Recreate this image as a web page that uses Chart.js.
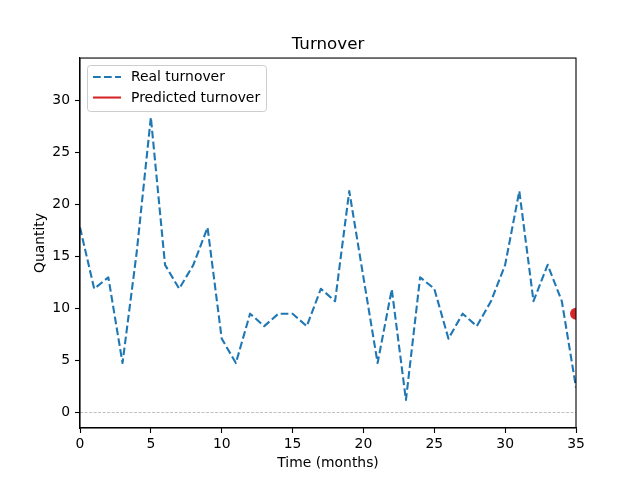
<!DOCTYPE html>
<html>
<head>
<meta charset="utf-8">
<script src="https://cdn.jsdelivr.net/npm/chart.js@4.4.1/dist/chart.umd.min.js"></script>
<style>
  html, body { margin: 0; padding: 0; background: #fff; }
  #wrap { width: 640px; height: 480px; }
</style>
</head>
<body>
<div id="wrap"><canvas id="turnoverChart" width="640" height="480"></canvas></div>
<script>
// data
const months = [0, 1, 2, 3, 4, 5, 6, 7, 8, 9, 10, 11, 12, 13, 14, 15, 16, 17,
  18, 19, 20, 21, 22, 23, 24, 25, 26, 27, 28, 29, 30, 31, 32, 33, 34, 35];
const realTurnover = [17.8, 11.9, 13.0, 4.75, 15.4, 28.4, 14.2, 11.9, 14.2, 17.8,
  7.1, 4.75, 9.5, 8.3, 9.5, 9.5, 8.3, 11.9, 10.7, 21.3, 13.0, 4.75, 11.85, 1.2,
  13.0, 11.9, 7.1, 9.5, 8.3, 10.7, 14.2, 21.3, 10.7, 14.2, 10.7, 2.4];
const predMonths = [35];
const predTurnover = [9.5];
const xTicks = [0, 5, 10, 15, 20, 25, 30, 35];
const yTicks = [0, 5, 10, 15, 20, 25, 30];

const FONT = "'DejaVu Sans', sans-serif";

// frame round the plot + legend box inside the axes
const framePlugin = {
  id: "frame",
  afterDraw(chart) {
    const { ctx, chartArea: a } = chart;
    ctx.save();
    ctx.strokeStyle = "#000";
    ctx.lineWidth = 1.1;
    ctx.strokeRect(a.left, a.top, a.right - a.left, a.bottom - a.top);

    // legend
    const x0 = a.left + 7, y0 = a.top + 7, w = 179, h = 46;
    ctx.fillStyle = "rgba(255,255,255,0.8)";
    ctx.strokeStyle = "#cccccc";
    ctx.lineWidth = 1;
    ctx.beginPath();
    ctx.roundRect(x0 + 0.5, y0 + 0.5, w, h, 3);
    ctx.fill();
    ctx.stroke();

    ctx.lineWidth = 2.1;
    ctx.strokeStyle = "#1f77b4";
    ctx.setLineDash([7.7, 3.3]);
    ctx.beginPath();
    ctx.moveTo(x0 + 6, y0 + 12);
    ctx.lineTo(x0 + 34, y0 + 12);
    ctx.stroke();
    ctx.setLineDash([]);
    ctx.strokeStyle = "#d62728";
    ctx.beginPath();
    ctx.moveTo(x0 + 6, y0 + 32.5);
    ctx.lineTo(x0 + 34, y0 + 32.5);
    ctx.stroke();

    ctx.fillStyle = "#000";
    ctx.font = "13.9px " + FONT;
    ctx.textBaseline = "middle";
    ctx.fillText(chart.data.datasets[0].label, x0 + 44, y0 + 12.5);
    ctx.fillText(chart.data.datasets[1].label, x0 + 44, y0 + 33);
    ctx.restore();
  },
};

const ctx = document.getElementById("turnoverChart").getContext("2d");
const turnoverChart = new Chart(ctx, {
  type: "line",
  data: {
    datasets: [
      {
        label: "Real turnover",
        data: months.map((m, i) => ({ x: m, y: realTurnover[i] })),
        borderColor: "#1f77b4",
        borderWidth: 2.1,
        borderDash: [7.7, 3.3],
        borderJoinStyle: "round",
        borderCapStyle: "butt",
        pointRadius: 0,
        tension: 0,
        fill: false,
      },
      {
        label: "Predicted turnover",
        data: predMonths.map((m, i) => ({ x: m, y: predTurnover[i] })),
        borderColor: "#d62728",
        backgroundColor: "#d62728",
        borderWidth: 2.1,
        pointRadius: 6,
        pointBorderWidth: 0,
        pointBackgroundColor: "#d62728",
      },
    ],
  },
  options: {
    responsive: false,
    animation: false,
    devicePixelRatio: 1,
    layout: { padding: { left: 16, right: 0, top: 0, bottom: 0 } },
    scales: {
      x: {
        type: "linear",
        min: 0,
        max: 35,
        afterBuildTicks: (s) => { s.ticks = xTicks.map((v) => ({ value: v })); },
        afterFit: (s) => { s.height = 52; },
        grid: { color: "rgba(0,0,0,0)", tickColor: "#000", tickLength: 5, tickWidth: 1.1 },
        border: { color: "#000", width: 1.1 },
        ticks: { color: "#000", font: { family: FONT, size: 13.9 }, padding: 3, maxRotation: 0 },
        title: {
          display: true,
          text: "Time (months)",
          color: "#000",
          font: { family: FONT, size: 13.9 },
          padding: { top: 0, bottom: 8.6 },
        },
      },
      y: {
        min: -1.5,
        max: 34.1,
        afterBuildTicks: (s) => { s.ticks = yTicks.map((v) => ({ value: v })); },
        afterFit: (s) => { s.width = 64; },
        grid: {
          color: (c) => (c.tick && c.tick.value === 0 ? "#b0b0b0" : "rgba(0,0,0,0)"),
          lineWidth: 0.8,
          tickColor: "#000",
          tickLength: 5,
          tickWidth: 1.1,
        },
        border: { color: "#000", width: 1.1, dash: [3, 1.5] },
        ticks: { color: "#000", font: { family: FONT, size: 13.9 }, padding: 5 },
        title: {
          display: true,
          text: "Quantity",
          color: "#000",
          font: { family: FONT, size: 13.9 },
          padding: { top: 15.6, bottom: 0 },
        },
      },
      y2: {
        position: "right",
        display: true,
        afterFit: (s) => { s.width = 64; },
        grid: { display: false },
        border: { display: false },
        ticks: { display: false },
      },
    },
    plugins: {
      legend: { display: false },
      tooltip: { enabled: false },
      title: {
        display: true,
        text: "Turnover",
        color: "#000",
        font: { family: FONT, size: 16.7, weight: "normal" },
        padding: { top: 35, bottom: 3 },
      },
    },
  },
  plugins: [framePlugin],
});
</script>
</body>
</html>
